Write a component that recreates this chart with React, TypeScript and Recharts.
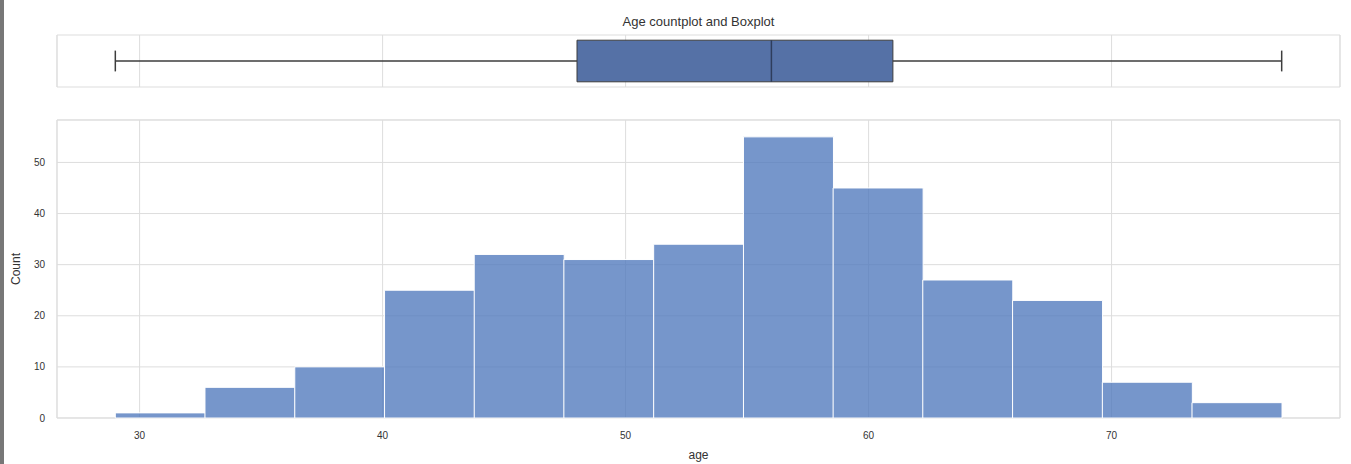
import {
  BarChart,
  Bar,
  ComposedChart,
  XAxis,
  YAxis,
  CartesianGrid,
  ReferenceArea,
  ReferenceLine,
} from 'recharts';

// histogram bins (age) and their counts
const binEdges = [29, 32.69, 36.38, 40.08, 43.77, 47.46, 51.15, 54.85, 58.54, 62.23, 65.92, 69.62, 73.31, 77];
const counts = [1, 6, 10, 25, 32, 31, 34, 55, 45, 27, 23, 7, 3];

// boxplot summary: min, q1, median, q3, max
const boxStats = [29, 48, 56, 61, 77];

const xTicks = [30, 40, 50, 60, 70];
const yTicks = [0, 10, 20, 30, 40, 50];
const xDomain: [number, number] = [26.6, 79.4];
const yMax = 58.3;

const FONT = '"Liberation Sans", Arial, sans-serif';
const GRID = '#dddddd';
const BLUE = '#4c72b0';

const histData = counts.map((c, i) => ({
  age: (binEdges[i] + binEdges[i + 1]) / 2,
  count: c,
}));

export default function App() {
  const [lo, q1, med, q3, hi] = boxStats;
  const boxData = boxStats.map((v) => ({ age: v, pos: 0.5 }));

  return (
    <div
      style={{
        position: 'absolute',
        left: 0,
        top: 0,
        width: 1351,
        height: 464,
        background: '#fff',
        fontFamily: FONT,
        overflow: 'hidden',
      }}
    >
      <div style={{ position: 'absolute', left: 0, top: 0, width: 4, height: 464, background: '#777' }} />

      <div
        style={{
          position: 'absolute',
          left: 57,
          width: 1283,
          top: 14,
          textAlign: 'center',
          fontSize: 13,
          lineHeight: '15px',
          color: '#333',
        }}
      >
        Age countplot and Boxplot
      </div>

      {/* boxplot panel */}
      <div style={{ position: 'absolute', left: 0, top: 0 }}>
        <ComposedChart width={1351} height={100} data={boxData} margin={{ top: 35, right: 11, bottom: 13, left: 57 }}>
          <CartesianGrid stroke={GRID} horizontal={false} />
          <XAxis type="number" dataKey="age" domain={xDomain} ticks={xTicks} hide />
          <YAxis type="number" dataKey="pos" domain={[0, 1]} hide />
          <ReferenceArea x1={xDomain[0]} x2={xDomain[1]} y1={0} y2={1} fill="none" stroke={GRID} ifOverflow="visible" />
          <ReferenceLine segment={[{ x: lo, y: 0.5 }, { x: q1, y: 0.5 }]} stroke="#3d3d3d" strokeWidth={1.5} ifOverflow="visible" />
          <ReferenceLine segment={[{ x: q3, y: 0.5 }, { x: hi, y: 0.5 }]} stroke="#3d3d3d" strokeWidth={1.5} ifOverflow="visible" />
          <ReferenceLine segment={[{ x: lo, y: 0.3 }, { x: lo, y: 0.7 }]} stroke="#3d3d3d" strokeWidth={1.5} ifOverflow="visible" />
          <ReferenceLine segment={[{ x: hi, y: 0.3 }, { x: hi, y: 0.7 }]} stroke="#3d3d3d" strokeWidth={1.5} ifOverflow="visible" />
          <ReferenceArea x1={q1} x2={q3} y1={0.1} y2={0.9} fill="#5571a6" fillOpacity={1} stroke="#3d3d3d" strokeWidth={1} ifOverflow="visible" />
          <ReferenceLine segment={[{ x: med, y: 0.1 }, { x: med, y: 0.9 }]} stroke="#2e3d5c" strokeWidth={1.5} ifOverflow="visible" />
        </ComposedChart>
      </div>

      {/* histogram panel */}
      <div style={{ position: 'absolute', left: 0, top: 0 }}>
        <BarChart
          width={1351}
          height={464}
          data={histData}
          barCategoryGap={0}
          margin={{ top: 120, right: 11, bottom: 0, left: 0 }}
        >
          <CartesianGrid stroke={GRID} />
          <XAxis
            type="number"
            dataKey="age"
            domain={xDomain}
            ticks={xTicks}
            height={46}
            tickSize={0}
            tickMargin={14}
            axisLine={false}
            tick={{ fontSize: 10, fill: '#333', fontFamily: FONT }}
            label={{ value: 'age', position: 'insideBottom', offset: 5, fontSize: 12, fill: '#333', fontFamily: FONT }}
          />
          <YAxis
            type="number"
            domain={[0, yMax]}
            ticks={yTicks}
            width={57}
            tickSize={0}
            tickMargin={12}
            axisLine={false}
            tick={{ fontSize: 10, fill: '#333', fontFamily: FONT }}
            label={{
              value: 'Count',
              angle: -90,
              position: 'insideLeft',
              offset: 16,
              fontSize: 12,
              fill: '#333',
              fontFamily: FONT,
              style: { textAnchor: 'middle' },
            }}
          />
          <ReferenceArea x1={xDomain[0]} x2={xDomain[1]} y1={0} y2={yMax} fill="none" stroke={GRID} ifOverflow="visible" />
          <Bar dataKey="count" fill="#4f78bd" fillOpacity={0.78} stroke="#fff" strokeWidth={1} isAnimationActive={false} />
        </BarChart>
      </div>
    </div>
  );
}
